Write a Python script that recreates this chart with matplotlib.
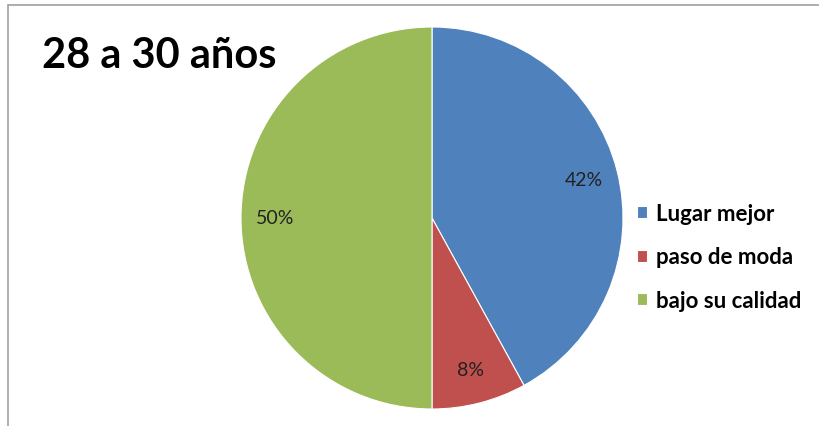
import matplotlib.pyplot as plt
from matplotlib.patches import Rectangle

plt.rcParams["font.family"] = ["Lato", "DejaVu Sans"]

categories = ["Lugar mejor", "paso de moda", "bajo su calidad"]
shares = [42, 8, 50]
colors = ["#4F81BD", "#C0504D", "#9BBB59"]
title = "28 a 30 años"

W, H = 820, 427
fig = plt.figure(figsize=(W / 100, H / 100), dpi=100)

# chart frame (only top/left edges fall inside the image)
fig.patches.append(Rectangle((8 / W, -0.1), 1.2, (427 - 6) / H + 0.1, transform=fig.transFigure,
                             fill=False, edgecolor="#a0a0a0", linewidth=1.2))

cx, cy, r = 432, 219, 191
ax = fig.add_axes([(cx - r) / W, (H - cy - r) / H, 2 * r / W, 2 * r / H])
wedges, texts, autotexts = ax.pie(shares, colors=colors, startangle=90, counterclock=False,
                                  autopct="%d%%", pctdistance=0.82, radius=1,
                                  wedgeprops=dict(linewidth=0.8, edgecolor="white"),
                                  textprops=dict(fontsize=14, color="#222222"))
ax.set_xlim(-1, 1); ax.set_ylim(-1, 1); ax.set_aspect("equal")

fig.text(42 / W, 1 - 56 / H, title, fontsize=30, fontweight="bold", va="center", ha="left")

leg = fig.legend(wedges, categories, loc="center left", bbox_to_anchor=(628 / W, 1 - 258 / H),
                 frameon=False, handlelength=0.45, handleheight=0.45,
                 handletextpad=0.4, labelspacing=1.0, borderaxespad=0,
                 prop=dict(size=16, weight="bold"))

fig.savefig("out.png", dpi=100)
